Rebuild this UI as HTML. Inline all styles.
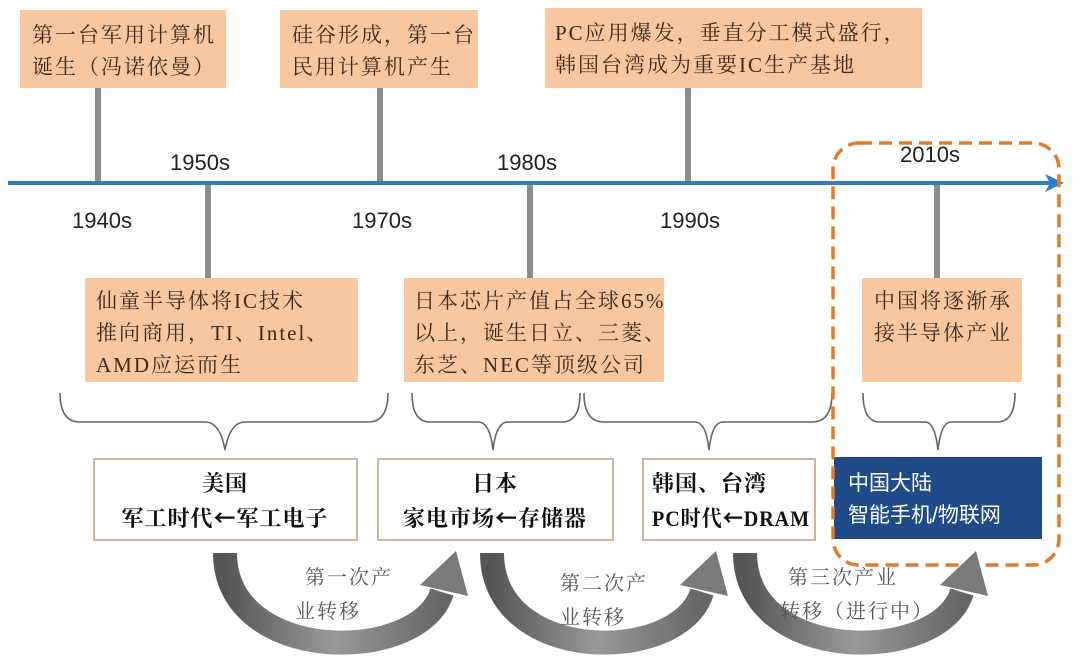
<!DOCTYPE html>
<html><head><meta charset="utf-8"><style>
html,body{margin:0;padding:0;background:#fff;}
svg{display:block}
.t{font-family:"Liberation Serif","Noto Serif CJK SC","Noto Sans CJK SC",serif;font-size:21px;fill:#3a2a20;letter-spacing:2px}
.y{font-family:"Liberation Sans",sans-serif;font-size:22px;fill:#222}
.b{font-family:"Liberation Serif","Noto Serif CJK SC","Noto Sans CJK SC",serif;font-size:22px;fill:#111;font-weight:bold;letter-spacing:1px}
.g{font-family:"Liberation Serif","Noto Serif CJK SC","Noto Sans CJK SC",serif;font-size:20px;fill:#555;letter-spacing:2px}
.w{font-family:"Liberation Sans","Noto Sans CJK SC",sans-serif;font-size:21px;fill:#fff}
.ar{font-family:"Noto Sans CJK SC",sans-serif;font-weight:bold}
</style></head><body>
<svg width="1080" height="658" viewBox="0 0 1080 658" xmlns="http://www.w3.org/2000/svg">
<defs>
<linearGradient id="gr" x1="0" y1="0" x2="1" y2="0"><stop offset="0" stop-color="#555"/><stop offset="0.5" stop-color="#999"/><stop offset="1" stop-color="#666"/></linearGradient>
</defs>
<rect x="20" y="10" width="206" height="78" fill="#f8c7a0"/>
<text class="t" x="32" y="42">第一台军用计算机</text>
<text class="t" x="32" y="74">诞生（冯诺依曼）</text>
<rect x="280" y="10" width="198" height="78" fill="#f8c7a0"/>
<text class="t" x="292" y="42">硅谷形成，第一台</text>
<text class="t" x="292" y="74">民用计算机产生</text>
<rect x="545" y="8" width="377" height="80" fill="#f8c7a0"/>
<text class="t" x="555" y="40">PC应用爆发，垂直分工模式盛行，</text>
<text class="t" x="555" y="72">韩国台湾成为重要IC生产基地</text>
<g fill="#8c8c8c">
<rect x="95" y="88" width="6" height="95"/>
<rect x="377" y="88" width="6" height="95"/>
<rect x="685" y="88" width="6" height="95"/>
<rect x="205" y="183" width="6" height="96"/>
<rect x="527" y="183" width="6" height="96"/>
<rect x="934" y="183" width="6" height="96"/>
</g>
<line x1="8" y1="183" x2="1050" y2="183" stroke="#2f7fc6" stroke-width="4"/>
<polygon points="1045,174 1064,183 1045,192 1050,183" fill="#2f7fc6"/>
<text class="y" x="170" y="170">1950s</text>
<text class="y" x="72" y="228">1940s</text>
<text class="y" x="352" y="228">1970s</text>
<text class="y" x="497" y="170">1980s</text>
<text class="y" x="660" y="228">1990s</text>
<text class="y" x="900" y="162">2010s</text>
<rect x="85" y="278" width="273" height="104" fill="#f8c7a0"/>
<text class="t" x="96" y="308">仙童半导体将IC技术</text>
<text class="t" x="96" y="340">推向商用，TI、Intel、</text>
<text class="t" x="96" y="372">AMD应运而生</text>
<rect x="404" y="278" width="260" height="104" fill="#f8c7a0"/>
<text class="t" x="414" y="308">日本芯片产值占全球65%</text>
<text class="t" x="414" y="340">以上，诞生日立、三菱、</text>
<text class="t" x="414" y="372">东芝、NEC等顶级公司</text>
<rect x="862" y="278" width="160" height="104" fill="#f8c7a0"/>
<text class="t" x="874" y="308">中国将逐渐承</text>
<text class="t" x="874" y="340">接半导体产业</text>
<g fill="none" stroke="#666" stroke-width="1.6">
<path d="M60,393 Q60,422 80,422 L205,422 Q220,422 225,450 Q230,422 245,422 L368,422 Q388,422 388,393"/>
<path d="M412,393 Q412,422 430,422 L478,422 Q490,422 493,450 Q496,422 508,422 L562,422 Q580,422 580,393"/>
<path d="M584,393 Q584,422 604,422 L695,422 Q706,422 709,450 Q712,422 723,422 L812,422 Q832,422 832,393"/>
<path d="M863,393 Q863,422 880,422 L925,422 Q935,422 938,450 Q941,422 951,422 L997,422 Q1015,422 1015,393"/>
</g>
<rect x="94" y="459" width="263" height="81" fill="#fff" stroke="#c9b7a4" stroke-width="2"/>
<text class="b" x="225" y="491" text-anchor="middle">美国</text>
<text class="b" x="225" y="526" text-anchor="middle">军工时代<tspan class="ar">←</tspan>军工电子</text>
<rect x="378" y="459" width="235" height="81" fill="#fff" stroke="#c9b7a4" stroke-width="2"/>
<text class="b" x="495" y="491" text-anchor="middle">日本</text>
<text class="b" x="495" y="526" text-anchor="middle">家电市场<tspan class="ar">←</tspan>存储器</text>
<rect x="643" y="459" width="172" height="81" fill="#fff" stroke="#c9b7a4" stroke-width="2"/>
<text class="b" x="652" y="491">韩国、台湾</text>
<text class="b" x="652" y="526" textLength="158" lengthAdjust="spacingAndGlyphs">PC时代<tspan class="ar">←</tspan>DRAM</text>
<rect x="834" y="457" width="208" height="82" fill="#1f4b8a"/>
<text class="w" x="848" y="490">中国大陆</text>
<text class="w" x="848" y="522">智能手机/物联网</text>
<rect x="833" y="143" width="226" height="422" rx="26" fill="none" stroke="#e07b2a" stroke-width="3.5" stroke-dasharray="13,7"/>
<g stroke="url(#gr)" stroke-width="24" fill="none">
<path d="M225,553 C225,665 420,665 442,592"/>
<path d="M492,553 C492,665 680,665 702,592"/>
<path d="M745,553 C745,665 940,665 962,592"/>
</g>
<g fill="#7a7a7a">
<polygon points="420,585 456,551 468,596"/>
<polygon points="680,585 716,551 728,596"/>
<polygon points="940,585 976,551 988,596"/>
</g>
<text class="g" x="305" y="584">第一次产</text>
<text class="g" x="295" y="618">业转移</text>
<text class="g" x="560" y="590">第二次产</text>
<text class="g" x="560" y="624">业转移</text>
<text class="g" x="788" y="584">第三次产业</text>
<text class="g" x="780" y="618">转移（进行中）</text>
</svg>
</body></html>
